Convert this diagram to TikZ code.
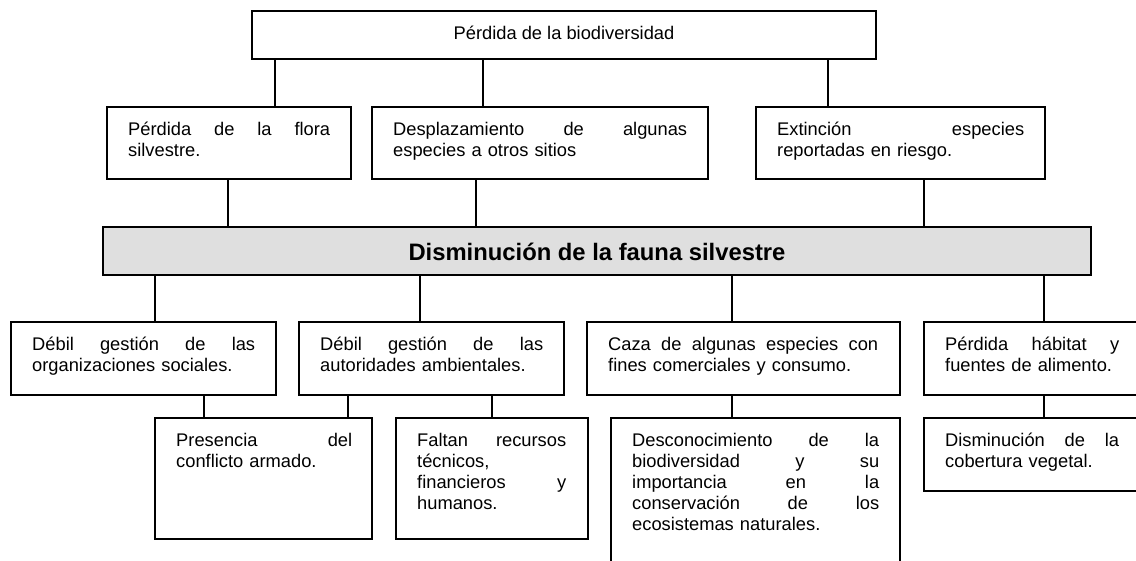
\documentclass[tikz,border=0pt]{standalone}
\usepackage{fontspec}
\setmainfont{Liberation Sans}
\begin{document}
\begin{tikzpicture}[x=1pt,y=-1pt,
  box/.style={draw=black,line width=1.5pt,fill=white,anchor=north west,inner sep=0pt,outer sep=0pt},
  grbox/.style={box,fill=graybg},
  txt/.style={anchor=base west,inner sep=0pt,align=left,font=\fontsize{18.3}{21}\selectfont},
  ctxt/.style={anchor=base,inner sep=0pt,font=\fontsize{18.3}{21}\selectfont},
  btxt/.style={anchor=base,inner sep=0pt,font=\fontsize{23.8}{27}\selectfont\bfseries},
  link/.style={draw=black,line width=1.5pt}]
\definecolor{graybg}{RGB}{223,223,223}
\clip (0,0) rectangle (1136,560);
\fill[white] (0,0) rectangle (1136,560);
% boxes
\node[box,minimum width=624,minimum height=48] (top) at (252,11) {};
\node[box,minimum width=244,minimum height=72] (flora) at (107,107) {};
\node[box,minimum width=336,minimum height=72] (desp) at (372,107) {};
\node[box,minimum width=289,minimum height=72] (ext) at (756,107) {};
\node[grbox,minimum width=988,minimum height=48] (fauna) at (103,227) {};
\node[box,minimum width=265,minimum height=73] (orgs) at (11,322) {};
\node[box,minimum width=265,minimum height=73] (auts) at (299,322) {};
\node[box,minimum width=313,minimum height=73] (caza) at (587,322) {};
\node[box,minimum width=216,minimum height=73] (habi) at (924,322) {};
\node[box,minimum width=217,minimum height=121] (conf) at (155,418) {};
\node[box,minimum width=192,minimum height=121] (recu) at (396,418) {};
\node[box,minimum width=289,minimum height=160] (desc) at (611,418) {};
\node[box,minimum width=216,minimum height=73] (cobe) at (924,418) {};
% texts
\node[ctxt] at (564,39) {Pérdida de la biodiversidad};
\node[txt,text width=202] at ([xshift=21,yshift=-28.5]flora.north west) {Pérdida\hfill de\hfill la\hfill flora\\silvestre.};
\node[txt,text width=294] at ([xshift=21,yshift=-28.5]desp.north west) {Desplazamiento\hfill de\hfill algunas\\especies a otros sitios};
\node[txt,text width=247] at ([xshift=21,yshift=-28.5]ext.north west) {Extinción\hfill especies\\reportadas en riesgo.};
\node[btxt] at (597,260) {Disminución de la fauna silvestre};
\node[txt,text width=223] at ([xshift=21,yshift=-28.5]orgs.north west) {Débil\hfill gestión\hfill de\hfill las\\organizaciones sociales.};
\node[txt,text width=223] at ([xshift=21,yshift=-28.5]auts.north west) {Débil\hfill gestión\hfill de\hfill las\\autoridades ambientales.};
\node[txt,text width=270] at ([xshift=21,yshift=-28.5]caza.north west) {Caza\hfill de\hfill algunas\hfill especies\hfill con\\fines comerciales y consumo.};
\node[txt,text width=174] at ([xshift=21,yshift=-28.5]habi.north west) {Pérdida\hfill hábitat\hfill y\\fuentes de alimento.};
\node[txt,text width=176] at ([xshift=21,yshift=-28.5]conf.north west) {Presencia\hfill del\\conflicto armado.};
\node[txt,text width=149] at ([xshift=21,yshift=-28.5]recu.north west) {Faltan\hfill recursos\\técnicos,\\financieros\hfill y\\humanos.};
\node[txt,text width=247] at ([xshift=21,yshift=-28.5]desc.north west) {Desconocimiento\hfill de\hfill la\\biodiversidad\hfill y\hfill su\\importancia\hfill en\hfill la\\conservación\hfill de\hfill los\\ecosistemas naturales.};
\node[txt,text width=174] at ([xshift=21,yshift=-28.5]cobe.north west) {Disminución\hfill de\hfill la\\cobertura vegetal.};
% connectors
\draw[link] (275,0 |- top.south) -- (275,0 |- flora.north);
\draw[link] (483,0 |- top.south) -- (483,0 |- desp.north);
\draw[link] (828,0 |- top.south) -- (828,0 |- ext.north);
\draw[link] (228,0 |- flora.south) -- (228,0 |- fauna.north);
\draw[link] (476,0 |- desp.south) -- (476,0 |- fauna.north);
\draw[link] (924,0 |- ext.south) -- (924,0 |- fauna.north);
\draw[link] (155,0 |- fauna.south) -- (155,0 |- orgs.north);
\draw[link] (420,0 |- fauna.south) -- (420,0 |- auts.north);
\draw[link] (732,0 |- fauna.south) -- (732,0 |- caza.north);
\draw[link] (1044,0 |- fauna.south) -- (1044,0 |- habi.north);
\draw[link] (204,0 |- orgs.south) -- (204,0 |- conf.north);
\draw[link] (348,0 |- auts.south) -- (348,0 |- conf.north);
\draw[link] (492,0 |- auts.south) -- (492,0 |- recu.north);
\draw[link] (732,0 |- caza.south) -- (732,0 |- desc.north);
\draw[link] (1044,0 |- habi.south) -- (1044,0 |- cobe.north);
\end{tikzpicture}
\end{document}
